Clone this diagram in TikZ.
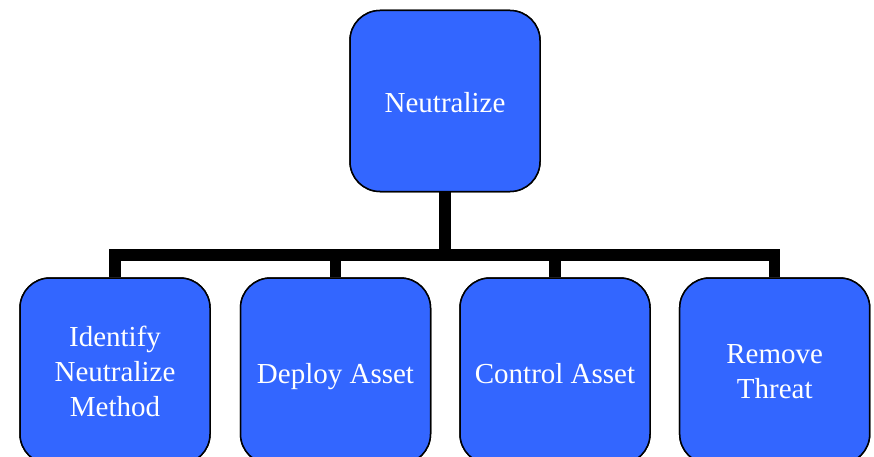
\documentclass[tikz,border=0pt]{standalone}
\usepackage{fontspec}
\setmainfont{Liberation Serif}
\definecolor{boxblue}{HTML}{3366FF}
\newcommand{\toprule}{\rule{0pt}{31pt}}
\newcommand{\tallrule}{\rule{0pt}{27pt}}
\newcommand{\botrule}{\rule[-7pt]{0pt}{7pt}}
\begin{document}
\begin{tikzpicture}[x=1pt,y=-1pt,
  box/.style={draw=black, line width=1.5pt, fill=boxblue, rounded corners=30pt,
    minimum width=190pt, minimum height=186pt, inner sep=0pt,
    text=white, align=center, font=\fontsize{29}{35}\selectfont},
  link/.style={line width=11.5pt, draw=black}]
\useasboundingbox (0,0) rectangle (874,457);
\clip (0,0) rectangle (874,457);
% tree levels
\coordinate (bar) at (445,255);
\node[box, minimum height=181pt] (top) at (445,101) {\toprule Neutralize\botrule};
\node[box] (b1) at (115,371) {\tallrule Identify\\Neutralize\\Method\botrule};
\node[box] (b2) at (335.5,371) {\toprule Deploy Asset\botrule};
\node[box] (b3) at (555,371) {\toprule Control Asset\botrule};
\node[box] (b4) at (774.7,371) {\tallrule Remove\\Threat\botrule};
% connectors
\foreach \c in {b1,b2,b3,b4}
  \draw[link] (top.south) -- (top.south |- bar) -| (\c.north);
% redraw boxes over the connector ends
\node[box, minimum height=181pt] at (445,101) {\toprule Neutralize\botrule};
\node[box] at (115,371) {\tallrule Identify\\Neutralize\\Method\botrule};
\node[box] at (335.5,371) {\toprule Deploy Asset\botrule};
\node[box] at (555,371) {\toprule Control Asset\botrule};
\node[box] at (774.7,371) {\tallrule Remove\\Threat\botrule};
\end{tikzpicture}
\end{document}
